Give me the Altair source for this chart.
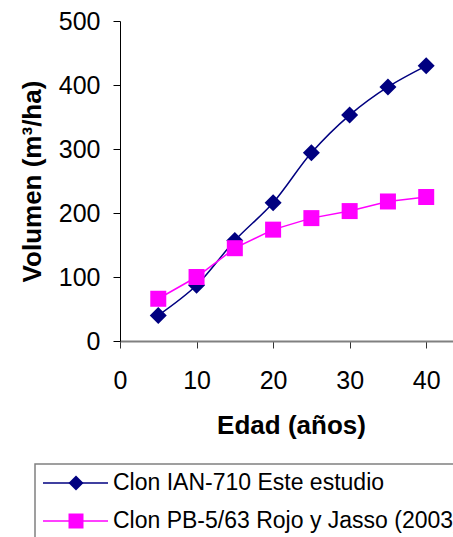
import altair as alt
import pandas as pd

edad = [5, 10, 15, 20, 25, 30, 35, 40]
vol_ian = [40, 87, 157, 216, 294, 353, 397, 430]
vol_pb = [66, 100, 145, 174, 192, 203, 218, 225]
series = ["Clon IAN-710 Este estudio", "Clon PB-5/63 Rojo y Jasso (2003)"]
colors = ["#000080", "#FF00FF"]
shapes = ["diamond", "square"]
x_ticks = [0, 10, 20, 30, 40]
y_ticks = [0, 100, 200, 300, 400, 500]

df = pd.DataFrame({
    "edad": edad * 2,
    "vol": vol_ian + vol_pb,
    "serie": [series[0]] * len(edad) + [series[1]] * len(edad),
})
legend_df = pd.DataFrame({"serie": series, "fila": [0, 1]})
box_df = pd.DataFrame({"caja": [0]})

FONT = "Liberation Sans"

x_enc = alt.X("edad:Q",
              scale=alt.Scale(domain=[0, 43.5], nice=False, zero=False),
              axis=alt.Axis(values=x_ticks, title="Edad (años)", grid=False,
                            labelFontSize=25, labelPadding=20, tickSize=7,
                            tickColor="#333333", domainColor="#808080", domainWidth=2,
                            titleFontSize=26, titleFontWeight="bold",
                            titleX=171, titleY=71, labelFlush=False))
y_enc = alt.Y("vol:Q",
              scale=alt.Scale(domain=[0, 500], nice=False),
              axis=alt.Axis(values=y_ticks, title="Volumen (m³/ha)", grid=False,
                            labelFontSize=25, labelPadding=13, tickSize=7,
                            tickColor="#000000", domainColor="#000000", domainWidth=1,
                            titleFontSize=26, titleFontWeight="bold",
                            titleX=-75, titleY=160, labelFlush=False))
color_enc = alt.Color("serie:N", scale=alt.Scale(domain=series, range=colors), legend=None)
shape_enc = alt.Shape("serie:N", scale=alt.Scale(domain=series, range=shapes), legend=None)

base = alt.Chart(df)
line_ian = base.transform_filter(alt.datum.serie == series[0]).mark_line(
    interpolate="catmull-rom", strokeWidth=1.5).encode(x=x_enc, y=y_enc, color=color_enc)
pts_ian = base.transform_filter(alt.datum.serie == series[0]).mark_point(
    filled=True, size=289, opacity=1).encode(x=x_enc, y=y_enc, color=color_enc, shape=shape_enc)
line_pb = base.transform_filter(alt.datum.serie == series[1]).mark_line(
    strokeWidth=1.5).encode(x=x_enc, y=y_enc, color=color_enc)
pts_pb = base.transform_filter(alt.datum.serie == series[1]).mark_point(
    filled=True, size=256, opacity=1).encode(x=x_enc, y=y_enc, color=color_enc, shape=shape_enc)

main = alt.layer(line_ian, pts_ian, line_pb, pts_pb)

# legend drawn from the series list
ly = alt.Y("fila:Q", scale=alt.Scale(domain=[0, 1], range=[462, 500], nice=False, zero=False), axis=None)
box = alt.Chart(box_df).mark_rect(fill="white", stroke="#808080", strokeWidth=1.5).encode(
    x=alt.value(-85), x2=alt.value(345), y=alt.value(443), y2=alt.value(540))
leg_line = alt.Chart(legend_df).mark_rule(strokeWidth=1.5).encode(
    x=alt.value(-77), x2=alt.value(-12), y=ly, color=color_enc)
leg_pts = alt.Chart(legend_df).mark_point(filled=True, size=225, opacity=1).encode(
    x=alt.value(-44), y=ly, color=color_enc, shape=shape_enc)
leg_txt = alt.Chart(legend_df).mark_text(align="left", baseline="middle", fontSize=23,
                                         font=FONT, color="black").encode(
    x=alt.value(-7), y=ly, text="serie:N")
legend = alt.layer(box, leg_line, leg_pts, leg_txt)

chart = alt.layer(main, legend).resolve_scale(y="independent").properties(
    width=333, height=320,
    padding={"left": 120, "top": 21, "right": 0, "bottom": 196},
    autosize=alt.AutoSizeParams(type="none"),
).configure(font=FONT).configure_view(stroke=None).configure_axis(
    labelFont=FONT, titleFont=FONT, labelColor="black", titleColor="black")

chart.save("out.html", embed_options={"renderer": "svg", "actions": False})
